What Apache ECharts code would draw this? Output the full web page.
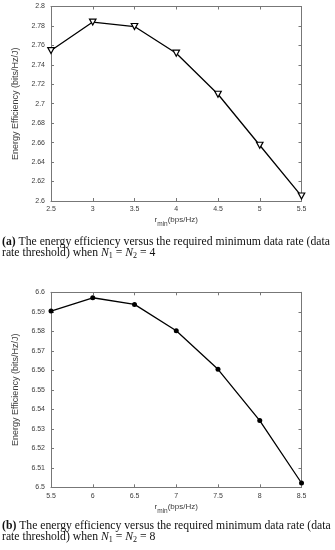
<!DOCTYPE html>
<html>
<head>
<meta charset="utf-8">
<script src="https://cdn.jsdelivr.net/npm/echarts@6/dist/echarts.min.js"></script>
<style>
html,body{margin:0;padding:0;background:#fff;}
#c{width:335px;height:550px;}
</style>
</head>
<body>
<div id="c"></div>
<script>
// Data
const rminA = [2.5, 3, 3.5, 4, 4.5, 5, 5.5];
const eeA = [2.7547, 2.7840, 2.7794, 2.7520, 2.7098, 2.6573, 2.6051];
const rminB = [5.5, 6, 6.5, 7, 7.5, 8, 8.5];
const eeB = [6.5904, 6.5972, 6.5938, 6.5803, 6.5605, 6.5342, 6.5022];
const yTitle = 'Energy Efficiency (bits/Hz/J)';
const xTitle = '{r|r}{s|min}{r|(bps/Hz)}';
const captionA1 = '{b|(a)} The energy efficiency versus the required minimum data rate (data';
const captionA2 = 'rate threshold) when {i|N}{s|1} = {i|N}{s|2} = 4';
const captionB1 = '{b|(b)} The energy efficiency versus the required minimum data rate (data';
const captionB2 = 'rate threshold) when {i|N}{s|1} = {i|N}{s|2} = 8';

const chart = echarts.init(document.getElementById('c'));
const axisColor = '#777';
const labelColor = '#3c3c3c';
const sans = 'Liberation Sans, Arial, sans-serif';
const serif = 'Liberation Serif, Times New Roman, serif';
const capSize = 11.7;

const grids = [
  {left: 51, right: 33.5, top: 6.5, height: 194.5},
  {left: 51, right: 33.5, top: 292.3, height: 195}
];

function xAx(gi, min, max, pos, show) {
  return {
    type: 'value', gridIndex: gi, min: min, max: max, interval: 0.5, position: pos,
    axisLine: {show: true, onZero: false, lineStyle: {color: axisColor, width: 1}},
    axisTick: {show: true, inside: true, length: 3, lineStyle: {color: axisColor}},
    splitLine: {show: false},
    axisLabel: {show: show, color: labelColor, fontSize: 7, fontFamily: sans, margin: 5,
      formatter: v => String(+v.toFixed(2))},
    name: show ? xTitle : '', nameLocation: 'middle', nameGap: 15,
    nameTextStyle: {
      color: labelColor, fontFamily: sans,
      rich: {
        r: {fontSize: 8, fontFamily: sans, color: labelColor, lineHeight: 10, verticalAlign: 'top'},
        s: {fontSize: 6.5, fontFamily: sans, color: labelColor, lineHeight: 8, padding: [5, 0, 0, 0], verticalAlign: 'top'}
      }
    }
  };
}
function yAx(gi, min, max, interval, pos, show) {
  return {
    type: 'value', gridIndex: gi, min: min, max: max, interval: interval, position: pos,
    axisLine: {show: true, onZero: false, lineStyle: {color: axisColor, width: 1}},
    axisTick: {show: true, inside: true, length: 3, lineStyle: {color: axisColor}},
    splitLine: {show: false},
    axisLabel: {show: show, color: labelColor, fontSize: 7, fontFamily: sans, margin: 6,
      formatter: v => String(+v.toFixed(3))},
    name: show ? yTitle : '', nameLocation: 'middle', nameGap: 21, nameRotate: 90,
    nameTextStyle: {color: labelColor, fontSize: 9, fontFamily: sans}
  };
}

function cap(y, text) {
  return {
    type: 'text', left: 2, top: y,
    style: {
      text: text, fill: '#111', font: capSize + 'px ' + serif, lineHeight: 12,
      rich: {
        b: {fontWeight: 'bold', fontSize: capSize, fontFamily: serif, fill: '#111', lineHeight: 12, verticalAlign: 'top'},
        i: {fontStyle: 'italic', fontSize: capSize, fontFamily: serif, fill: '#111', lineHeight: 12, verticalAlign: 'top'},
        s: {fontSize: 8, fontFamily: serif, fill: '#111', lineHeight: 7, padding: [5, 0, 0, 0], verticalAlign: 'top'}
      }
    }
  };
}

const downTri = 'path://M0,0 L10,0 L5,9 Z';

chart.setOption({
  animation: false,
  grid: grids,
  xAxis: [
    xAx(0, 2.5, 5.5, 'bottom', true), xAx(0, 2.5, 5.5, 'top', false),
    xAx(1, 5.5, 8.5, 'bottom', true), xAx(1, 5.5, 8.5, 'top', false)
  ],
  yAxis: [
    yAx(0, 2.6, 2.8, 0.02, 'left', true), yAx(0, 2.6, 2.8, 0.02, 'right', false),
    yAx(1, 6.5, 6.6, 0.01, 'left', true), yAx(1, 6.5, 6.6, 0.01, 'right', false)
  ],
  series: [
    {
      type: 'line', xAxisIndex: 0, yAxisIndex: 0,
      data: rminA.map((x, i) => [x, eeA[i]]),
      lineStyle: {color: '#000', width: 1.3},
      symbol: downTri, symbolSize: [6.5, 6],
      itemStyle: {color: '#fff', borderColor: '#000', borderWidth: 1.2},
      clip: false
    },
    {
      type: 'line', xAxisIndex: 2, yAxisIndex: 2,
      data: rminB.map((x, i) => [x, eeB[i]]),
      lineStyle: {color: '#000', width: 1.3},
      symbol: 'circle', symbolSize: 5,
      itemStyle: {color: '#000', borderColor: '#000', borderWidth: 0},
      clip: false
    }
  ],
  graphic: [
    cap(235.5, captionA1), cap(246.5, captionA2),
    cap(519.5, captionB1), cap(530.5, captionB2)
  ]
});
</script>
</body>
</html>
